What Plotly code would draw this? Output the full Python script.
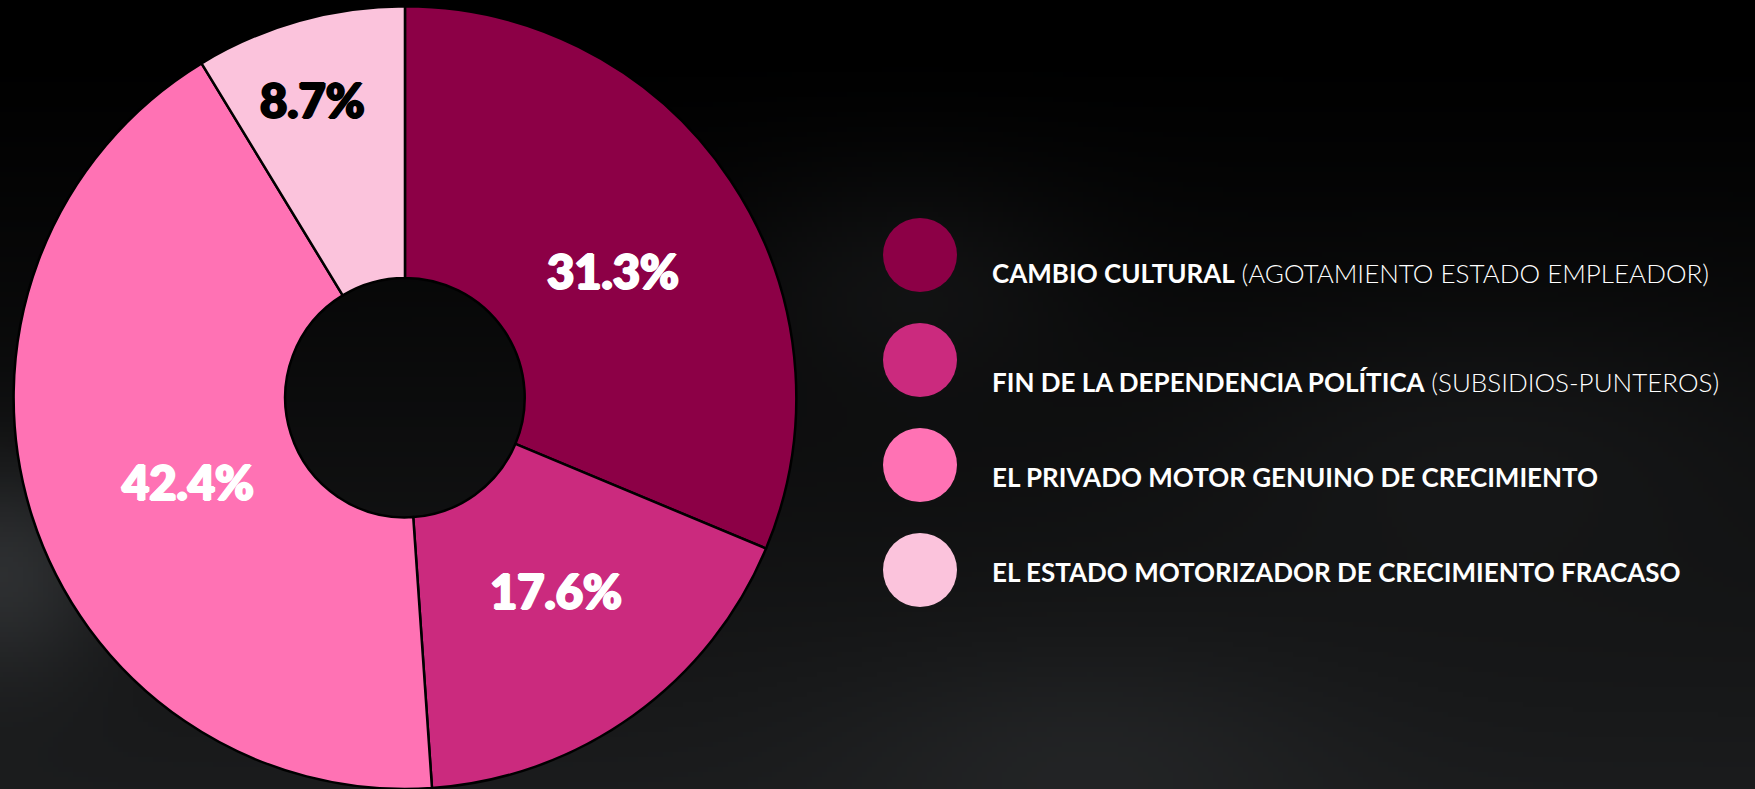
import base64
import math
import struct
import zlib

import numpy as np
import plotly.graph_objects as go

# ---------------- data ----------------
labels = [
    "CAMBIO CULTURAL",
    "FIN DE LA DEPENDENCIA POLÍTICA",
    "EL PRIVADO MOTOR GENUINO DE CRECIMIENTO",
    "EL ESTADO MOTORIZADOR DE CRECIMIENTO FRACASO",
]
label_notes = ["(AGOTAMIENTO ESTADO EMPLEADOR)", "(SUBSIDIOS-PUNTEROS)", "", ""]
values = [31.3, 17.6, 42.4, 8.7]

# ---------------- styles ----------------
colors = ["#8C0046", "#CB2A7E", "#FF72B4", "#FBC3DC"]
pct_text_colors = ["#FFFFFF", "#FFFFFF", "#FFFFFF", "#000000"]
pct_label_radius = [0.623, 0.628, 0.595, 0.797]   # fraction of outer radius
pct_label_angle_offset = [2.3, -2.3, -3.7, -1.5]  # degrees from slice mid-angle
legend_text_shift = [-18, -22, -12, -2]

W, H = 1755, 789
PIE_X = [0.0074, 0.4541]
PIE_Y = [0.0, 0.992]


def png_data_uri(arr):
    h, w, _ = arr.shape
    raw = b"".join(b"\x00" + arr[i].tobytes() for i in range(h))

    def chunk(t, d):
        c = struct.pack(">I", len(d)) + t + d
        return c + struct.pack(">I", zlib.crc32(t + d) & 0xFFFFFFFF)

    png = (b"\x89PNG\r\n\x1a\n"
           + chunk(b"IHDR", struct.pack(">IIBBBBB", w, h, 8, 2, 0, 0, 0))
           + chunk(b"IDAT", zlib.compress(raw, 9))
           + chunk(b"IEND", b""))
    return "data:image/png;base64," + base64.b64encode(png).decode()


# smoky dark background (decorative)
bw, bh = 351, 158
yy, xx = np.mgrid[0:bh, 0:bw]
yn = yy / (bh - 1)
xn = xx / (bw - 1)
lum = 28 * np.clip((yn - 0.05) / 0.95, 0, 1) ** 1.1
lum += 28 * np.exp(-((xn - 0.0) ** 2 / 0.004 + (yn - 0.72) ** 2 / 0.02))
lum += 10 * np.exp(-((xn - 0.52) ** 2 / 0.01 + (yn - 0.35) ** 2 / 0.02))
lum += 9 * np.exp(-((xn - 0.62) ** 2 / 0.02 + (yn - 0.95) ** 2 / 0.02))
lum += 8 * np.exp(-((xn - 0.85) ** 2 / 0.03 + (yn - 0.55) ** 2 / 0.03))
lum = np.clip(lum, 0, 255)
bg = np.stack([lum * 0.96, lum * 1.0, lum * 1.04], axis=-1).clip(0, 255).astype(np.uint8)

fig = go.Figure()

fig.add_trace(go.Pie(
    labels=labels,
    values=values,
    sort=False,
    direction="clockwise",
    rotation=0,
    hole=0.306,
    marker=dict(colors=colors, line=dict(color="#000000", width=2.5)),
    textinfo="none",
    domain=dict(x=PIE_X, y=PIE_Y),
    showlegend=False,
    hoverinfo="label+percent",
))

# percentage labels placed near each slice's mid-angle (computed from values)
cx = (PIE_X[0] + PIE_X[1]) / 2
cy = (PIE_Y[0] + PIE_Y[1]) / 2
r_px = min((PIE_X[1] - PIE_X[0]) * W, (PIE_Y[1] - PIE_Y[0]) * H) / 2
total = sum(values)
annotations = []
cum = 0.0
for i, v in enumerate(values):
    mid = (cum + v / 2) / total * 2 * math.pi + math.radians(pct_label_angle_offset[i])
    cum += v
    rr = r_px * pct_label_radius[i]
    col = pct_text_colors[i]
    annotations.append(dict(
        x=cx + rr * math.sin(mid) / W,
        y=cy + rr * math.cos(mid) / H,
        xref="paper", yref="paper",
        text=f"{v / total * 100:.1f}%",
        showarrow=False, xanchor="center", yanchor="middle",
        font=dict(family="Lato", size=47, color=col, weight=900,
                  shadow=f"1.2px 0 0 {col}, -1.2px 0 0 {col}, 0 1px 0 {col}, 0 -1px 0 {col}"),
    ))

# legend circles drawn as a scatter on a pixel-like axis
rows = list(range(len(labels)))
fig.add_trace(go.Scatter(
    x=[0] * len(labels),
    y=rows,
    mode="markers",
    marker=dict(size=74, color=colors, line=dict(width=0)),
    showlegend=False,
    hoverinfo="skip",
))

for i, (lab, note) in enumerate(zip(labels, label_notes)):
    txt = f"<b>{lab}</b>"
    if note:
        txt += f" <span style='font-weight:300'>{note}</span>"
    annotations.append(dict(
        x=0, y=i, xref="x", yref="y",
        text=txt, showarrow=False,
        xanchor="left", yanchor="middle",
        xshift=70, yshift=legend_text_shift[i],
        font=dict(family="Lato", size=26, color="#FFFFFF"),
    ))

fig.update_layout(
    width=W, height=H,
    margin=dict(l=0, r=0, t=0, b=0),
    paper_bgcolor="#000000",
    plot_bgcolor="rgba(0,0,0,0)",
    xaxis=dict(range=[-920, W - 920], visible=False, domain=[0, 1], fixedrange=True),
    yaxis=dict(range=[(H - 255) / 105, -255 / 105], visible=False, domain=[0, 1], fixedrange=True),
    annotations=annotations,
    images=[dict(
        source=png_data_uri(bg), xref="paper", yref="paper",
        x=0, y=1, sizex=1, sizey=1, xanchor="left", yanchor="top",
        sizing="stretch", layer="below",
    )],
)

fig.write_html(
    "out.html",
    config={"displayModeBar": False},
    post_script="document.body.style.margin='0';document.body.style.background='#000';",
)
